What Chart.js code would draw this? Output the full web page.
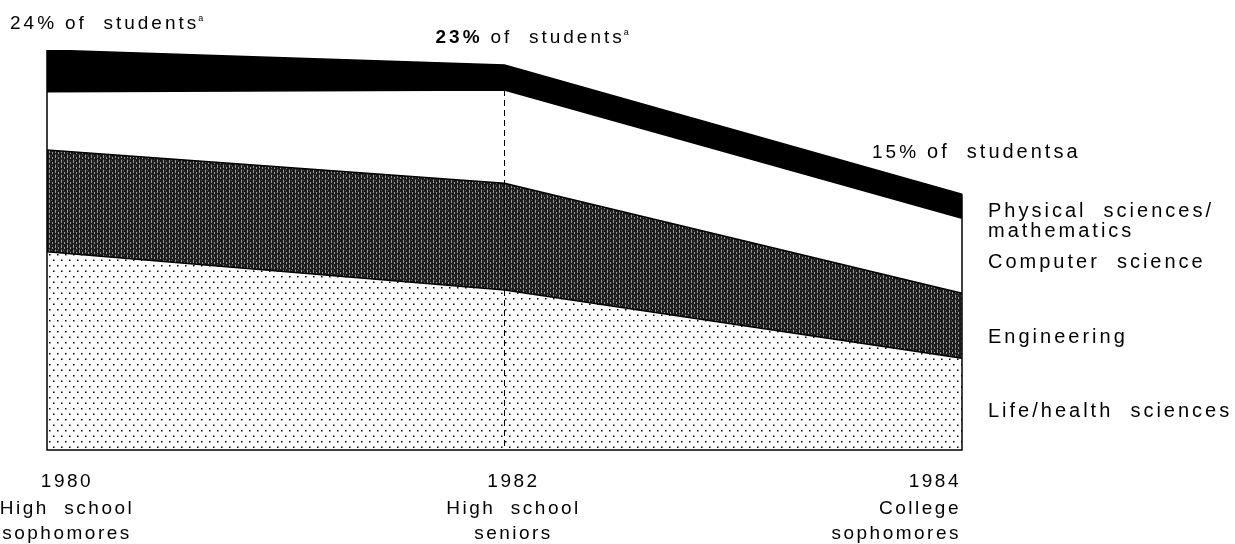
<!DOCTYPE html>
<html>
<head>
<meta charset="utf-8">
<script src="https://cdn.jsdelivr.net/npm/chart.js@4.4.1/dist/chart.umd.min.js"></script>
<style>
  body { margin: 0; background: #fff; }
  #wrap { width: 1235px; height: 544px; position: relative; }
</style>
</head>
<body>
<div id="wrap"><canvas id="ctxStudents"></canvas></div>
<script>
// percent of students planning to major in each field
const years = ['1980', '1982', '1984'];
const groups = [['High  school', 'sophomores'], ['High  school', 'seniors'], ['College', 'sophomores']];
const lifeHealth = [11.9, 9.6, 5.5];
const engineering = [6.1, 6.4, 3.9];
const computerSci = [3.5, 5.6, 4.5];
const physMath = [2.5, 1.5, 1.45];
const fieldNames = [['Life/health  sciences'], ['Engineering'], ['Computer  science'], ['Physical  sciences/', 'mathematics']];
const totalPct = ['24%', '23%', '15%'];

const FONT = "'Liberation Sans', Arial, sans-serif";

function dotPattern() {
  const c = document.createElement('canvas');
  c.width = 8; c.height = 11;
  const g = c.getContext('2d');
  g.fillStyle = '#fff';
  g.fillRect(0, 0, 8, 11);
  g.fillStyle = '#000';
  g.fillRect(1, 1, 1.5, 1.5);
  g.fillRect(5, 6.5, 1.5, 1.5);
  return g.createPattern(c, 'repeat');
}

function stripePattern() {
  const c = document.createElement('canvas');
  c.width = 6; c.height = 5;
  const g = c.getContext('2d');
  g.fillStyle = '#1c1c1c';
  g.fillRect(0, 0, 6, 5);
  g.fillStyle = 'rgba(255,255,255,0.55)';
  g.fillRect(1, 0, 1, 3);
  g.fillRect(4, 2, 1, 2);
  g.fillStyle = 'rgba(255,255,255,0.25)';
  g.fillRect(1, 4, 1, 1);
  g.fillRect(3, 0, 1, 1);
  return g.createPattern(c, 'repeat');
}

const textPlugin = {
  id: 'textPlugin',
  afterDatasetsDraw(chart) {
    const { ctx, scales: { x, y } } = chart;
    const last = years.length - 1;
    const tops = years.map((_, i) => lifeHealth[i] + engineering[i] + computerSci[i] + physMath[i]);
    ctx.save();
    // frame
    ctx.strokeStyle = '#000';
    ctx.lineWidth = 1.5;
    ctx.beginPath();
    ctx.moveTo(x.getPixelForValue(0), y.getPixelForValue(tops[0]));
    ctx.lineTo(x.getPixelForValue(0), y.getPixelForValue(0));
    ctx.lineTo(x.getPixelForValue(last), y.getPixelForValue(0));
    ctx.lineTo(x.getPixelForValue(last), y.getPixelForValue(tops[last]));
    ctx.stroke();
    // dashed line at 1982
    const mx = x.getPixelForValue(1);
    ctx.lineWidth = 1;
    ctx.setLineDash([6, 4]);
    ctx.beginPath();
    ctx.moveTo(mx, y.getPixelForValue(lifeHealth[1] + engineering[1] + computerSci[1]));
    ctx.lineTo(mx, y.getPixelForValue(0));
    ctx.stroke();
    ctx.setLineDash([]);
    ctx.restore();
  },
  afterDraw(chart) {
    const { ctx, scales: { x, y } } = chart;
    const last = years.length - 1;
    ctx.save();
    ctx.fillStyle = '#000';
    ctx.textBaseline = 'alphabetic';

    // x labels
    ctx.letterSpacing = '2.5px';
    const colX = [67, x.getPixelForValue(1) + 9, x.getPixelForValue(last) - 1];
    const aligns = ['center', 'center', 'right'];
    years.forEach((yr, i) => {
      ctx.font = '19px ' + FONT;
      ctx.textAlign = aligns[i];
      const yb = y.getPixelForValue(0);
      ctx.fillText(yr, colX[i], yb + 37);
      ctx.fillText(groups[i][0], colX[i], yb + 64);
      ctx.fillText(groups[i][1], colX[i], yb + 89);
    });

    // totals above each point
    ctx.letterSpacing = '3px';
    const tops = years.map((_, i) => lifeHealth[i] + engineering[i] + computerSci[i] + physMath[i]);
    const offs = [[-37, -21], [-69, -22], [-90, -36]];
    ctx.textAlign = 'left';
    totalPct.forEach((p, i) => {
      let px = x.getPixelForValue(i) + offs[i][0];
      const py = y.getPixelForValue(tops[i]) + offs[i][1];
      ctx.font = (i === 1 ? 'bold ' : '') + '19px ' + FONT;
      ctx.fillText(p, px, py);
      px += ctx.measureText(p).width + 8;
      ctx.font = '19px ' + FONT;
      const rest = i === 2 ? 'of  studentsa' : 'of  students';
      if (i === 2) ctx.font = '20px ' + FONT;
      ctx.fillText(rest, px, py);
      px += ctx.measureText(rest).width;
      if (i !== 2) {
        ctx.font = '9px ' + FONT;
        ctx.letterSpacing = '0px';
        ctx.fillText('a', px - 1, py - 8);
        ctx.letterSpacing = '3px';
      }
    });

    // field labels on the right
    const stacks = [lifeHealth, engineering, computerSci, physMath];
    const bump = [13, 17, 12, 11];
    let base = 0;
    ctx.font = '20px ' + FONT;
    ctx.letterSpacing = '3px';
    stacks.forEach((s, k) => {
      const mid = y.getPixelForValue(base + s[last] / 2);
      base += s[last];
      fieldNames[k].forEach((line, j) => {
        ctx.fillText(line, x.getPixelForValue(last) + 26, mid + bump[k] + j * 20);
      });
    });
    ctx.restore();
  }
};

const ctxStudents = document.getElementById('ctxStudents');
new Chart(ctxStudents, {
  type: 'line',
  data: {
    labels: years,
    datasets: [
      { label: 'Life/health sciences', data: lifeHealth, fill: 'origin', backgroundColor: dotPattern() },
      { label: 'Engineering', data: engineering, fill: '-1', backgroundColor: stripePattern() },
      { label: 'Computer science', data: computerSci, fill: '-1', backgroundColor: '#fff' },
      { label: 'Physical sciences/mathematics', data: physMath, fill: '-1', backgroundColor: '#000' }
    ].map(d => Object.assign(d, { borderColor: '#000', borderWidth: 1.5, pointRadius: 0, tension: 0 }))
  },
  options: {
    responsive: true,
    maintainAspectRatio: false,
    animation: false,
    layout: { autoPadding: false, padding: { left: 47, right: 273, top: 50, bottom: 94 } },
    plugins: { legend: { display: false }, tooltip: { enabled: false } },
    scales: {
      x: { display: false },
      y: { display: false, stacked: true, min: 0, max: 24 }
    }
  },
  plugins: [textPlugin]
});
</script>
</body>
</html>
